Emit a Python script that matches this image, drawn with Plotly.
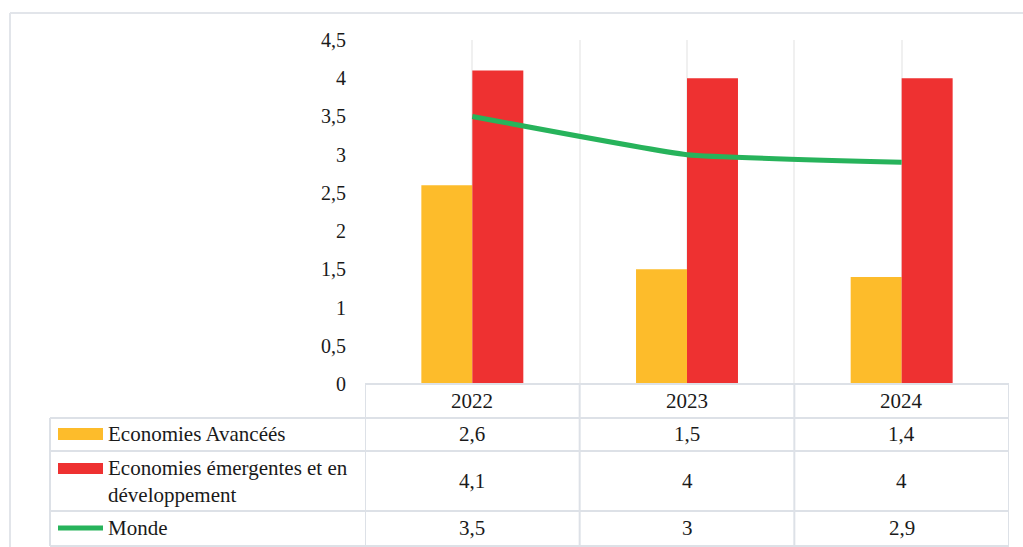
import plotly.graph_objects as go

# ---------------- data ----------------
years = [2022, 2023, 2024]
avancees = [2.6, 1.5, 1.4]
emergentes = [4.1, 4.0, 4.0]
monde = [3.5, 3.0, 2.9]
y_ticks = [0, 0.5, 1, 1.5, 2, 2.5, 3, 3.5, 4, 4.5]
series_labels = ["Economies Avancéés",
                 "Economies émergentes et en<br>développement",
                 "Monde"]

YELLOW = "#FDBC2B"
RED = "#EE3131"
GREEN = "#27B35B"
BORDER = "#DDE1E7"
GRID = "#F0F0F0"
FONT = "'Liberation Serif', 'Times New Roman', Times, serif"
FS = 20
FS_T = 21

W, H = 1023, 547


def fy(p):
    return 1 - p / H


def fx(p):
    return p / W


def fmt(v):
    return f"{v:g}".replace(".", ",")


fig = go.Figure()
fig.add_bar(x=years, y=avancees, name=series_labels[0], marker=dict(color=YELLOW, line=dict(width=0)))
fig.add_bar(x=years, y=emergentes, name=series_labels[1], marker=dict(color=RED, line=dict(width=0)))
fig.add_scatter(x=years, y=monde, name=series_labels[2], mode="lines",
                line=dict(color=GREEN, width=5, shape="spline", smoothing=0.35))

half = 0.5
grid_vals = [years[0] - half + i * half for i in range(2 * len(years) + 1)]

fig.update_layout(
    template="none",
    width=W, height=H, autosize=False,
    margin=dict(l=0, r=0, t=0, b=0, pad=0),
    paper_bgcolor="white", plot_bgcolor="white",
    showlegend=False,
    barmode="group", bargap=0.525, bargroupgap=0,
    separators=", ",
    font=dict(family=FONT, size=FS, color="#1a1a1a"),
    xaxis=dict(domain=[fx(365), fx(1009)], range=[years[0] - half, years[-1] + half],
               tickvals=grid_vals, showticklabels=False, ticks="", automargin=False,
               showgrid=True, gridcolor=GRID, gridwidth=2,
               zeroline=False, showline=False),
    yaxis=dict(domain=[fy(384), fy(40)], range=[0, 4.5], tickvals=y_ticks,
               ticktext=[fmt(v) for v in y_ticks], automargin=False,
               showgrid=False, zeroline=False, showline=False, ticks="",
               ticklabelstandoff=18,
               tickfont=dict(family=FONT, size=FS, color="#1a1a1a")),
)

shapes = []
# outer frame (top and left visible)
shapes.append(dict(type="line", xref="paper", yref="paper", x0=fx(10), x1=1.0, y0=fy(13), y1=fy(13),
                   line=dict(color="#E2E5EA", width=2)))
shapes.append(dict(type="line", xref="paper", yref="paper", x0=fx(10), x1=fx(10), y0=fy(13), y1=0,
                   line=dict(color="#E2E5EA", width=2)))

# table horizontal lines
shapes.append(dict(type="line", xref="x", yref="paper", x0=years[0] - half, x1=years[-1] + half,
                   y0=fy(384), y1=fy(384), line=dict(color=BORDER, width=2)))
row_lines = [418, 451, 511, 546]
for r in row_lines:
    shapes.append(dict(type="line", xref="paper", yref="paper", x0=fx(50), x1=fx(1009),
                       y0=fy(r), y1=fy(r), line=dict(color=BORDER, width=2)))
# table vertical lines
shapes.append(dict(type="line", xref="paper", yref="paper", x0=fx(50), x1=fx(50),
                   y0=fy(418), y1=fy(546), line=dict(color=BORDER, width=2)))
for i in range(len(years) + 1):
    xv = years[0] - half + i
    shapes.append(dict(type="line", xref="x", yref="paper", x0=xv, x1=xv,
                       y0=fy(384), y1=fy(546), line=dict(color=BORDER, width=2)))

# legend keys
shapes.append(dict(type="rect", xref="paper", yref="paper", x0=fx(58), x1=fx(103),
                   y0=fy(440), y1=fy(428), fillcolor=YELLOW, line=dict(width=0)))
shapes.append(dict(type="rect", xref="paper", yref="paper", x0=fx(58), x1=fx(103),
                   y0=fy(474), y1=fy(463), fillcolor=RED, line=dict(width=0)))
shapes.append(dict(type="line", xref="paper", yref="paper", x0=fx(58), x1=fx(103),
                   y0=fy(528), y1=fy(528), line=dict(color=GREEN, width=5)))

annotations = []
row_centers = [434, 481, 528]
for lbl, yc in zip(series_labels, row_centers):
    annotations.append(dict(text=lbl, xref="paper", yref="paper", x=fx(106), y=fy(yc),
                            xanchor="left", yanchor="middle", showarrow=False, align="left",
                            font=dict(family=FONT, size=FS_T, color="#1a1a1a")))
for i, yr in enumerate(years):
    annotations.append(dict(text=str(yr), xref="x", yref="paper", x=yr, y=fy(401),
                            xanchor="center", yanchor="middle", showarrow=False,
                            font=dict(family=FONT, size=FS_T, color="#1a1a1a")))
    for vals, yc in zip([avancees, emergentes, monde], row_centers):
        annotations.append(dict(text=fmt(vals[i]), xref="x", yref="paper", x=yr, y=fy(yc),
                                xanchor="center", yanchor="middle", showarrow=False,
                                font=dict(family=FONT, size=FS_T, color="#1a1a1a")))

fig.update_layout(shapes=shapes, annotations=annotations)
fig.write_html("out.html")
